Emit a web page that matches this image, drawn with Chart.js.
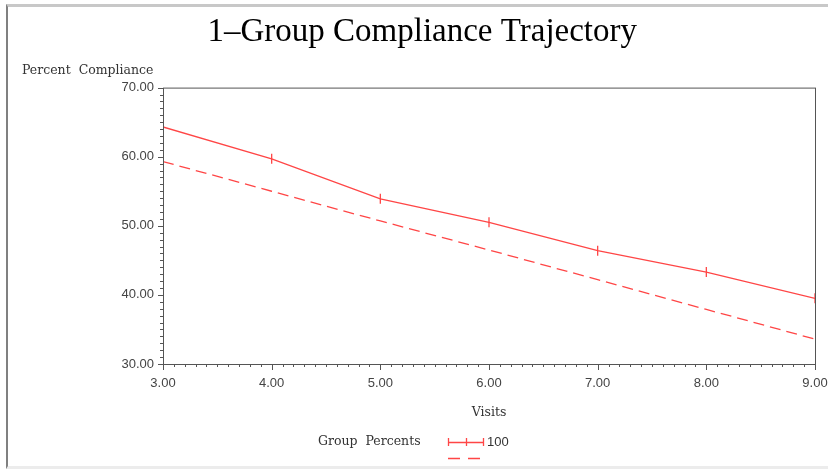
<!DOCTYPE html>
<html>
<head>
<meta charset="utf-8">
<title>1-Group Compliance Trajectory</title>
<script src="https://cdn.jsdelivr.net/npm/chart.js@4.4.1/dist/chart.umd.min.js"></script>
<style>
  html, body { margin: 0; padding: 0; background: #fff; }
  #wrap { position: relative; width: 828px; height: 473px; overflow: hidden; }
  #frame {
    position: absolute; left: 6px; top: 4px; right: -4px; bottom: 4px;
    border-left: 2px solid #808080; border-top: 3px solid #c8c8c8;
    border-bottom: 3px solid #ececec; pointer-events: none;
  }
</style>
</head>
<body>
<div id="wrap">
  <canvas id="myChart" width="828" height="473"></canvas>
  <div id="frame"></div>
</div>
<script>
// values
const visits = [3, 4, 5, 6, 7, 8, 9];
const observed = [64.3, 59.7, 53.9, 50.5, 46.4, 43.3, 39.5];
const fitted = [59.3, 55.0, 50.7, 46.5, 42.2, 37.9, 33.6];
const xTicks = [3, 4, 5, 6, 7, 8, 9];
const yTicks = [30, 40, 50, 60, 70];
const chartTitle = "\u20021\u2013Group Compliance Trajectory";
const yTitle = "Percent  Compliance";
const xTitle = "Visits";
const legendTitle = "Group  Percents";
const seriesName = "100";

const red = "rgb(255, 70, 70)";
const labelFont = { family: "Liberation Sans", size: 13 };
const serifFont = "12.5px 'DejaVu Serif'";

const myChart = document.getElementById("myChart");
const chartCtx = myChart.getContext("2d");

const toPoints = (ys) => visits.map((v, i) => ({ x: v, y: ys[i] }));

const sasFrame = {
  id: "sasFrame",
  afterDraw: (chart) => {
    const ctx = chart.ctx;
    const area = chart.chartArea;
    const xs = chart.scales.x;
    const ys = chart.scales.y;
    ctx.save();
    ctx.strokeStyle = "#555";
    ctx.lineWidth = 1;
    ctx.strokeRect(area.left + 0.5, area.top + 0.5, area.width, area.height);

    // minor / major tick marks
    ctx.beginPath();
    for (let t = Math.round(xs.min * 10); t <= Math.round(xs.max * 10); t++) {
      const px = Math.round(xs.getPixelForValue(t / 10)) + 0.5;
      const len = t % 10 === 0 ? 6 : 3;
      ctx.moveTo(px, area.bottom);
      ctx.lineTo(px, area.bottom + len);
    }
    for (let t = Math.round(ys.min); t <= Math.round(ys.max); t++) {
      const py = Math.round(ys.getPixelForValue(t)) + 0.5;
      const len = t % 10 === 0 ? 5 : 3;
      ctx.moveTo(area.left - len, py);
      ctx.lineTo(area.left, py);
    }
    ctx.stroke();

    // y axis title, above the axis
    ctx.fillStyle = "#333";
    ctx.font = serifFont;
    ctx.textBaseline = "middle";
    ctx.textAlign = "left";
    ctx.fillText(yTitle, 22, area.top - 17);

    // legend
    const cx = (area.left + area.right) / 2;
    const ly = chart.height - 31;
    ctx.fillText(legendTitle, cx - 171, ly);
    const s0 = cx - 41;
    const s1 = cx - 6;
    const solid = chart.data.datasets[0];
    const dashed = chart.data.datasets[1];
    ctx.strokeStyle = solid.borderColor;
    ctx.lineWidth = solid.borderWidth;
    ctx.beginPath();
    ctx.moveTo(s0, ly + 0.5);
    ctx.lineTo(s1, ly + 0.5);
    [s0, (s0 + s1) / 2, s1].forEach((sx) => {
      ctx.moveTo(Math.round(sx) + 0.5, ly - 4);
      ctx.lineTo(Math.round(sx) + 0.5, ly + 4);
    });
    ctx.stroke();
    ctx.fillStyle = "#333";
    ctx.font = "13px 'Liberation Sans'";
    ctx.fillText(seriesName, s1 + 4, ly);
    ctx.strokeStyle = dashed.borderColor;
    ctx.lineWidth = dashed.borderWidth;
    ctx.setLineDash([12, 8]);
    ctx.beginPath();
    ctx.moveTo(s0, ly + 16.5);
    ctx.lineTo(s1 + 2, ly + 16.5);
    ctx.stroke();
    ctx.restore();
  },
};

new Chart(chartCtx, {
  type: "line",
  data: {
    datasets: [
      {
        label: seriesName,
        data: toPoints(observed),
        borderColor: red,
        borderWidth: 1.3,
        pointStyle: "line",
        rotation: 90,
        pointRadius: 5,
        pointBorderColor: red,
        pointBorderWidth: 1.3,
        tension: 0,
      },
      {
        label: "fit",
        data: toPoints(fitted),
        borderColor: red,
        borderWidth: 1.3,
        borderDash: [11, 6],
        pointRadius: 0,
        tension: 0,
      },
    ],
  },
  options: {
    responsive: false,
    animation: false,
    layout: { padding: { left: 0, right: 0, top: 0, bottom: 45 } },
    scales: {
      x: {
        type: "linear",
        min: 3,
        max: 9,
        afterBuildTicks: (scale) => {
          scale.ticks = xTicks.map((v) => ({ value: v }));
        },
        afterFit: (scale) => {
          scale.height = 64;
          scale.paddingRight = 13;
        },
        ticks: {
          callback: (v) => Number(v).toFixed(2),
          font: labelFont,
          color: "#444",
          padding: 12,
          maxRotation: 0,
          autoSkip: false,
        },
        grid: { display: false, drawTicks: false },
        border: { display: false },
        title: {
          display: true,
          text: xTitle,
          font: { family: "DejaVu Serif", size: 12.5 },
          color: "#333",
          padding: { top: 0, bottom: 8 },
        },
      },
      y: {
        min: 30,
        max: 70,
        afterBuildTicks: (scale) => {
          scale.ticks = yTicks.map((v) => ({ value: v }));
        },
        afterFit: (scale) => {
          scale.width = 163;
        },
        ticks: {
          callback: (v) => Number(v).toFixed(2),
          font: labelFont,
          color: "#444",
          padding: 9,
        },
        grid: { display: false, drawTicks: false },
        border: { display: false },
      },
    },
    plugins: {
      legend: { display: false },
      tooltip: { enabled: false },
      title: {
        display: true,
        text: chartTitle,
        font: { family: "Liberation Serif", size: 33, weight: "normal" },
        color: "#000",
        padding: { top: 13, bottom: 35 },
      },
    },
  },
  plugins: [sasFrame],
});
</script>
</body>
</html>
